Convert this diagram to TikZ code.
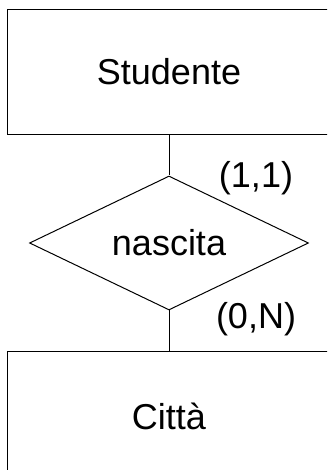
\documentclass[tikz,border=0pt]{standalone}
\usepackage{fontspec}
\setmainfont{Liberation Sans}
\usetikzlibrary{shapes.geometric}
\begin{document}
\begin{tikzpicture}[x=1pt,y=1pt,
  every node/.style={font=\fontsize{36}{40}\selectfont},
  entity/.style={rectangle, minimum width=322pt, minimum height=124pt, inner sep=0pt},
  relation/.style={draw=black, line width=1pt, diamond, aspect=2, minimum width=279pt, minimum height=134pt, inner sep=0pt},
  card/.style={inner sep=0pt},
  conn/.style={line width=1pt},
  boxline/.style={draw=black, line width=1pt}]
\useasboundingbox (0,0) rectangle (327,470);
\clip (0,0) rectangle (327,470);
\node[entity] (studente) at (169,398) {Studente};
\node[relation] (nascita) at (169,227) {nascita};
\node[entity, minimum height=128pt] (citta) at (169,54) {Città};
\draw[boxline] ([xshift=20pt]studente.north east) -| (studente.south west) -- ([xshift=20pt]studente.south east);
\draw[boxline] ([xshift=20pt]citta.north east) -| ([yshift=-20pt]citta.south west);
\draw[conn] (studente.south) -- (nascita.north);
\draw[conn] (nascita.south) -- (citta.north);
\node[card] (c1) at (256,292) {(1,1)};
\node[card] (c2) at (256,151) {(0,N)};
\end{tikzpicture}
\end{document}
